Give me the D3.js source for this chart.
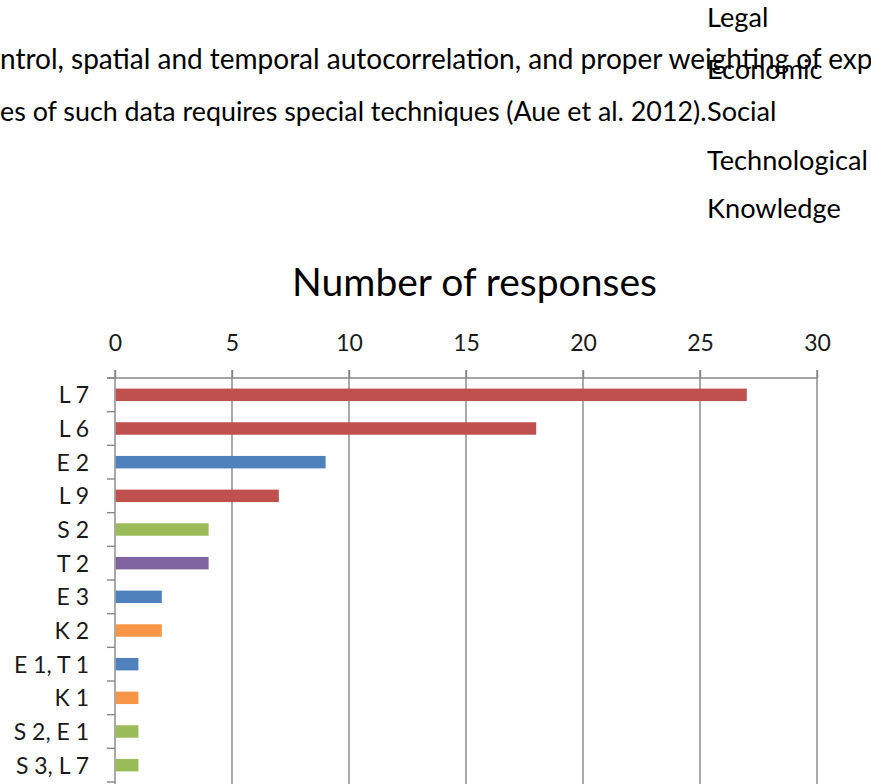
<!DOCTYPE html>
<html>
<head>
<meta charset="utf-8">
<script src="https://cdn.jsdelivr.net/npm/d3@7"></script>
<style>
html,body{margin:0;padding:0;background:#fff;overflow:hidden;}
svg{display:block;}
</style>
</head>
<body>
<svg id="chart" width="871" height="784"></svg>
<script>
// ---- data ----
const categories = ["L 7","L 6","E 2","L 9","S 2","T 2","E 3","K 2","E 1, T 1","K 1","S 2, E 1","S 3, L 7"];
const values = [27,18,9,7,4,4,2,2,1,1,1,1];
const groups = ["Legal","Legal","Economic","Legal","Social","Technological","Economic","Knowledge","Economic","Knowledge","Social","Social"];
const seriesNames = ["Legal","Economic","Social","Technological","Knowledge"];
const seriesColors = ["#C0504D","#4F81BD","#9BBB59","#8064A2","#F79646"];
const xTicks = [0,5,10,15,20,25,30];
const title = "Number of responses";
const bodyLine1 = "ntrol, spatial and temporal autocorrelation, and proper weighting of ";
const bodyLine1Rest = "explanatory";
const bodyLine2 = "es of such data requires special techniques (Aue et al. 2012).";

const FONT = "Lato, 'Open Sans', sans-serif";
const svg = d3.select("#chart");

function fitSize(text, targetW, base) {
  const t = svg.append("text").attr("font-family", FONT).attr("font-size", base).text(text);
  const w = t.node().getComputedTextLength();
  t.remove();
  return base * targetW / w;
}

// ---- surrounding document text ----
const bodySize = fitSize(bodyLine1, 822, 28);
svg.append("text").attr("x", 0).attr("y", 69)
  .attr("font-family", FONT).attr("font-size", bodySize).attr("fill", "#000")
  .text(bodyLine1 + bodyLine1Rest);
const body2Size = fitSize(bodyLine2, 707, 28);
svg.append("text").attr("x", 0).attr("y", 121)
  .attr("font-family", FONT).attr("font-size", body2Size).attr("fill", "#000")
  .text(bodyLine2);

// legend-like series names
const legSize = fitSize("Technological", 161, 28);
const legBase = [27, 79, 121, 170, 218];
svg.append("g").selectAll("text").data(seriesNames).join("text")
  .attr("x", 707).attr("y", (d,i) => legBase[i])
  .attr("font-family", FONT).attr("font-size", legSize).attr("fill", "#000")
  .text(d => d);

// ---- chart ----
const x = d3.scaleLinear().domain([0, 30]).range([115, 817]);
const y = d3.scaleBand().domain(categories).range([378, 782]).paddingInner(0.63).paddingOuter(0.315);
const color = d3.scaleOrdinal().domain(seriesNames).range(seriesColors);

const titleSize = fitSize(title, 365, 40);
svg.append("text").attr("x", 474.5).attr("y", 296)
  .attr("text-anchor", "middle")
  .attr("font-family", FONT).attr("font-size", titleSize).attr("fill", "#000")
  .text(title);

const labSize = fitSize("E 1, T 1", 75, 24);
const gridColor = "#878787";

// gridlines
svg.append("g").selectAll("line").data(xTicks.filter(d => d > 0)).join("line")
  .attr("x1", d => x(d)).attr("x2", d => x(d))
  .attr("y1", 370).attr("y2", 784)
  .attr("stroke", gridColor).attr("stroke-width", 1.4);

// top axis via d3
const xAxis = d3.axisTop(x).tickValues(xTicks).tickSize(8).tickPadding(19).tickFormat(d3.format("d"));
const gx = svg.append("g").attr("transform", "translate(0,378)").call(xAxis);
gx.select(".domain").attr("stroke", gridColor).attr("stroke-width", 1.4)
  .attr("d", `M${x(0)-8},0H${x(30)}`);
gx.selectAll(".tick line").attr("stroke", gridColor).attr("stroke-width", 1.4);
gx.selectAll(".tick text").attr("font-family", FONT).attr("font-size", labSize).attr("fill", "#1a1a1a");

// left axis line
svg.append("line").attr("x1", x(0)).attr("x2", x(0)).attr("y1", 370).attr("y2", 784)
  .attr("stroke", gridColor).attr("stroke-width", 1.4);

// category tick marks at band boundaries
const step = y.step();
const gap = (step - y.bandwidth()) / 2;
const bounds = categories.map(c => y(c) - gap).concat([y(categories[categories.length-1]) + y.bandwidth() + gap]);
svg.append("g").selectAll("line").data(bounds).join("line")
  .attr("x1", x(0) - 8).attr("x2", x(0))
  .attr("y1", d => d).attr("y2", d => d)
  .attr("stroke", gridColor).attr("stroke-width", 1.4);

// bars
svg.append("g").selectAll("rect").data(categories).join("rect")
  .attr("x", x(0) + 0.7)
  .attr("y", d => y(d))
  .attr("width", (d,i) => x(values[i]) - x(0) - 0.7)
  .attr("height", y.bandwidth())
  .attr("fill", (d,i) => color(groups[i]));

// category labels
svg.append("g").selectAll("text").data(categories).join("text")
  .attr("x", 89)
  .attr("y", d => y(d) + y.bandwidth()/2 + 8.5)
  .attr("text-anchor", "end")
  .attr("font-family", FONT).attr("font-size", labSize).attr("fill", "#1a1a1a")
  .text(d => d);
</script>
</body>
</html>
